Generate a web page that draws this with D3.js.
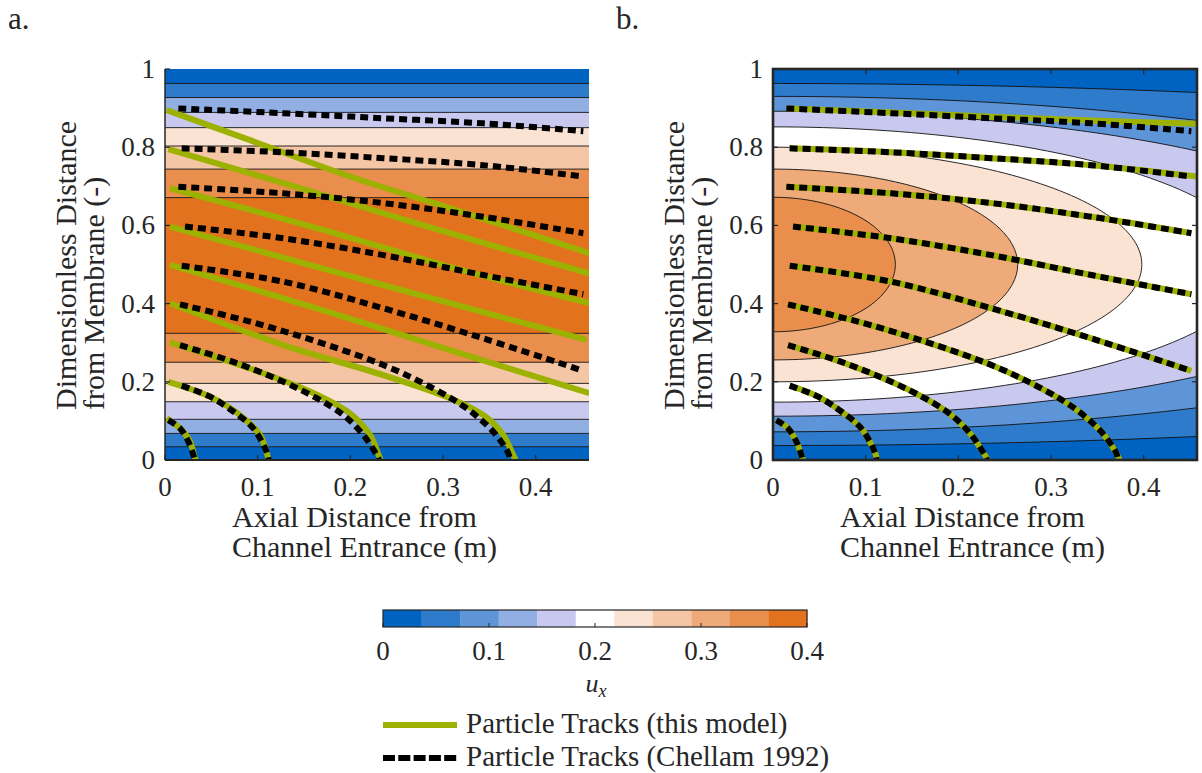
<!DOCTYPE html>
<html><head><meta charset="utf-8">
<script src="https://cdn.jsdelivr.net/npm/d3@7"></script>
<style>
body{margin:0;background:#fff;}
svg text{font-family:"Liberation Serif","Times New Roman",serif;fill:#262626;}
</style></head><body>
<svg id="chart" width="1202" height="773"></svg>
<script>
// ---------------- data ----------------
const xTicks = [0, 0.1, 0.2, 0.3, 0.4];
const yTicks = [0, 0.2, 0.4, 0.6, 0.8, 1];
const yTickLabels = ["0", "0.2", "0.4", "0.6", "0.8", "1"];
const cbTicks = [0, 0.1, 0.2, 0.3, 0.4];
const xMax = 0.4575;
const uMax = 0.4;
const levelColors = ["#0063c1", "#2e7bcb", "#5e95d8", "#92afe4", "#c9c8ef", "#ffffff",
                     "#fbe3d4", "#f5c6a6", "#efaa79", "#e98e4c", "#e3721f"];

// panel a: horizontal contour bands (edges in dimensionless distance) and their colour level
const bandEdgesA  = [0, 0.034, 0.068, 0.104, 0.149, 0.196, 0.250, 0.324, 0.671, 0.744, 0.803, 0.850, 0.889, 0.927, 0.963, 1];
const bandLevelsA = [0, 1, 3, 4, 6, 7, 9, 10, 9, 7, 6, 4, 3, 1, 0];

// panel b: nested elliptic contours centred on the entrance (semi-axes in m and in y)
const ellipseA      = [1.466, 0.886, 0.679, 0.523, 0.398, 0.264, 0.132];
const ellipseB      = [0.463, 0.429, 0.390, 0.352, 0.300, 0.244, 0.172];
const ellipseYc     = [0.500, 0.501, 0.502, 0.500, 0.500, 0.500, 0.500];
const ellipseLevels = [1, 2, 4, 5, 6, 8, 9];
const baseLevelB = 0;

// particle tracks, Chellam 1992 (same in both panels)
const chellamX = [
  [0.0144, 0.1277, 0.2356, 0.3435, 0.4514],
  [0.0180, 0.1277, 0.2356, 0.3435, 0.4514],
  [0.0144, 0.1277, 0.2356, 0.3435, 0.4514],
  [0.0216, 0.1277, 0.2356, 0.3435, 0.4514],
  [0.0180, 0.1277, 0.2356, 0.3435, 0.4514],
  [0.0162, 0.0917, 0.1637, 0.2356, 0.2895, 0.3255, 0.3543, 0.3705, 0.3722],
  [0.0162, 0.0737, 0.1277, 0.1637, 0.1924, 0.2140, 0.2284, 0.2310],
  [0.0180, 0.0486, 0.0737, 0.0953, 0.1097, 0.1120],
  [0.0036, 0.0162, 0.0252, 0.0306, 0.0320]
];
const chellamY = [
  [0.899, 0.887, 0.874, 0.861, 0.841],
  [0.797, 0.787, 0.772, 0.754, 0.725],
  [0.699, 0.682, 0.657, 0.622, 0.580],
  [0.597, 0.567, 0.524, 0.473, 0.424],
  [0.497, 0.456, 0.388, 0.311, 0.228],
  [0.398, 0.354, 0.303, 0.243, 0.183, 0.132, 0.072, 0.017, 0.0],
  [0.294, 0.251, 0.200, 0.158, 0.115, 0.064, 0.013, 0.0],
  [0.190, 0.162, 0.124, 0.081, 0.021, 0.0],
  [0.102, 0.081, 0.047, 0.013, 0.0]
];

// particle tracks, this model, panel a
const modelAX = [
  [0.0018, 0.0917, 0.1996, 0.3075, 0.4578],
  [0.0036, 0.1277, 0.2716, 0.4578],
  [0.0054, 0.1637, 0.3075, 0.4578],
  [0.0054, 0.1637, 0.3075, 0.4550],
  [0.0054, 0.1637, 0.3075, 0.4578],
  [0.0054, 0.1277, 0.2356, 0.3075, 0.3435, 0.3650, 0.3776, 0.3790],
  [0.0054, 0.0917, 0.1565, 0.1996, 0.2212, 0.2320, 0.2330],
  [0.0036, 0.0486, 0.0809, 0.1025, 0.1115, 0.1120],
  [0.0018, 0.0180, 0.0270, 0.0324, 0.0330]
];
const modelAY = [
  [0.895, 0.818, 0.725, 0.644, 0.529],
  [0.795, 0.708, 0.605, 0.477],
  [0.695, 0.593, 0.494, 0.401],
  [0.597, 0.494, 0.401, 0.307],
  [0.499, 0.388, 0.281, 0.171],
  [0.401, 0.294, 0.217, 0.158, 0.115, 0.064, 0.004, 0.0],
  [0.301, 0.234, 0.175, 0.119, 0.064, 0.004, 0.0],
  [0.200, 0.162, 0.115, 0.064, 0.004, 0.0],
  [0.107, 0.077, 0.047, 0.004, 0.0]
];

// particle tracks, this model, panel b
const modelBX = [
  [0.0144, 0.1277, 0.2356, 0.3435, 0.4577],
  [0.0180, 0.1277, 0.2356, 0.3435, 0.4577],
  [0.0144, 0.1277, 0.2356, 0.3435, 0.4514],
  [0.0216, 0.1277, 0.2356, 0.3435, 0.4514],
  [0.0180, 0.1277, 0.2356, 0.3435, 0.4514],
  [0.0162, 0.0917, 0.1637, 0.2356, 0.2895, 0.3255, 0.3543, 0.3705, 0.3740],
  [0.0162, 0.0737, 0.1277, 0.1637, 0.1924, 0.2140, 0.2284, 0.2320],
  [0.0180, 0.0486, 0.0737, 0.0953, 0.1097, 0.1125],
  [0.0036, 0.0162, 0.0252, 0.0306, 0.0325]
];
const modelBY = [
  [0.899, 0.889, 0.878, 0.868, 0.860],
  [0.797, 0.787, 0.772, 0.754, 0.725],
  [0.699, 0.682, 0.657, 0.622, 0.580],
  [0.597, 0.567, 0.524, 0.473, 0.424],
  [0.497, 0.456, 0.388, 0.311, 0.228],
  [0.398, 0.354, 0.303, 0.243, 0.183, 0.132, 0.072, 0.017, 0.0],
  [0.294, 0.251, 0.200, 0.158, 0.115, 0.064, 0.013, 0.0],
  [0.190, 0.162, 0.124, 0.081, 0.021, 0.0],
  [0.102, 0.081, 0.047, 0.013, 0.0]
];

const panelLetters = ["a.", "b."];
const xLabelLines = ["Axial Distance from", "Channel Entrance (m)"];
const yLabelLines = ["Dimensionless Distance", "from Membrane (-)"];
const legendLabels = ["Particle Tracks (this model)", "Particle Tracks (Chellam 1992)"];

// ---------------- styles ----------------
const GREEN = "#9db100";
const AXIS = "#262626";
const TRACK_W = 6;
const DASH = "8,5";

const svg = d3.select("#chart");
const defs = svg.append("defs");

const panels = [
  {left: 165, right: 589, top: 69, bottom: 460, box: false},
  {left: 773, right: 1197, top: 69, bottom: 460, box: true}
];

const line = d3.line().curve(d3.curveCatmullRom.alpha(0.5));

panels.forEach((p, pi) => {
  const x = d3.scaleLinear([0, xMax], [p.left, p.right]);
  const y = d3.scaleLinear([0, 1], [p.bottom, p.top]);
  const clipId = "clip" + pi;
  defs.append("clipPath").attr("id", clipId).append("rect")
    .attr("x", p.left).attr("y", p.top).attr("width", p.right - p.left).attr("height", p.bottom - p.top);
  const g = svg.append("g");
  const plot = g.append("g").attr("clip-path", `url(#${clipId})`);

  if (pi === 0) {
    plot.selectAll("rect.band").data(bandLevelsA).join("rect")
      .attr("x", x(0)).attr("width", x(xMax) - x(0))
      .attr("y", (d, i) => y(bandEdgesA[i + 1]))
      .attr("height", (d, i) => y(bandEdgesA[i]) - y(bandEdgesA[i + 1]))
      .attr("fill", d => levelColors[d]);
    plot.selectAll("line.edge").data(bandEdgesA.slice(1, -1)).join("line")
      .attr("x1", x(0)).attr("x2", x(xMax)).attr("y1", d => y(d)).attr("y2", d => y(d))
      .attr("stroke", "#111").attr("stroke-width", 0.9);
  } else {
    plot.append("rect").attr("x", x(0)).attr("y", y(1))
      .attr("width", x(xMax) - x(0)).attr("height", y(0) - y(1))
      .attr("fill", levelColors[baseLevelB]);
    const steps = d3.range(0, 121).map(k => -Math.PI / 2 + Math.PI * k / 120);
    ellipseA.forEach((a, i) => {
      const pts = steps.map(t => [x(a * Math.cos(t)), y(ellipseYc[i] + ellipseB[i] * Math.sin(t))]);
      plot.append("path").attr("d", d3.line()(pts) + "Z")
        .attr("fill", levelColors[ellipseLevels[i]])
        .attr("stroke", "#111").attr("stroke-width", 0.9);
    });
  }

  // tracks
  const mx = pi === 0 ? modelAX : modelBX;
  const my = pi === 0 ? modelAY : modelBY;
  mx.forEach((xs, i) => {
    plot.append("path").attr("d", line(xs.map((v, k) => [x(v), y(my[i][k])])))
      .attr("fill", "none").attr("stroke", GREEN).attr("stroke-width", TRACK_W);
  });
  chellamX.forEach((xs, i) => {
    plot.append("path").attr("d", line(xs.map((v, k) => [x(v), y(chellamY[i][k])])))
      .attr("fill", "none").attr("stroke", "#000").attr("stroke-width", TRACK_W)
      .attr("stroke-dasharray", DASH);
  });

  // axes
  const tickLen = 5;
  if (p.box) {
    g.append("rect").attr("x", p.left).attr("y", p.top)
      .attr("width", p.right - p.left).attr("height", p.bottom - p.top)
      .attr("fill", "none").attr("stroke", AXIS).attr("stroke-width", 2.6);
  } else {
    g.append("line").attr("x1", p.left).attr("x2", p.right).attr("y1", p.bottom).attr("y2", p.bottom)
      .attr("stroke", AXIS).attr("stroke-width", 2);
    g.append("line").attr("x1", p.left).attr("x2", p.left).attr("y1", p.top).attr("y2", p.bottom)
      .attr("stroke", AXIS).attr("stroke-width", 1.5);
  }
  xTicks.forEach(t => {
    g.append("line").attr("x1", x(t)).attr("x2", x(t)).attr("y1", p.bottom).attr("y2", p.bottom - tickLen)
      .attr("stroke", AXIS).attr("stroke-width", 1.2);
    if (p.box) g.append("line").attr("x1", x(t)).attr("x2", x(t)).attr("y1", p.top).attr("y2", p.top + tickLen)
      .attr("stroke", AXIS).attr("stroke-width", 1.2);
    g.append("text").attr("x", x(t)).attr("y", 496).attr("text-anchor", "middle")
      .style("font-size", "27px").text(d3.format("~g")(t));
  });
  yTicks.forEach((t, i) => {
    g.append("line").attr("x1", p.left).attr("x2", p.left + tickLen).attr("y1", y(t)).attr("y2", y(t))
      .attr("stroke", AXIS).attr("stroke-width", 1.2);
    if (p.box) g.append("line").attr("x1", p.right).attr("x2", p.right - tickLen).attr("y1", y(t)).attr("y2", y(t))
      .attr("stroke", AXIS).attr("stroke-width", 1.2);
    g.append("text").attr("x", p.left - 10).attr("y", y(t) + 9).attr("text-anchor", "end")
      .style("font-size", "27px").text(yTickLabels[i]);
  });
  // axis labels (two-line, one text element each)
  const xl = g.append("text").style("font-size", "30px");
  xLabelLines.forEach((s, i) => {
    xl.append("tspan").attr("x", p.left + 67).attr("y", 527 + i * 30).text(s);
  });
  const yl = g.append("text").style("font-size", "30px")
    .attr("transform", `translate(${p.left - 89},410) rotate(-90)`);
  yLabelLines.forEach((s, i) => {
    yl.append("tspan").attr("x", 0).attr("y", i * 28).text(s);
  });
  svg.append("text").attr("x", p.left - 157).attr("y", 29)
    .style("font-size", "31px").text(panelLetters[pi]);
});

// ---------------- colorbar ----------------
const cb = {left: 383, right: 807, top: 610, bottom: 627};
const cx = d3.scaleLinear([0, uMax], [cb.left, cb.right]);
const nLev = levelColors.length;
const cg = svg.append("g");
cg.selectAll("rect.lev").data(levelColors).join("rect")
  .attr("x", (d, i) => cx(uMax * i / nLev)).attr("width", (d, i) => cx(uMax * (i + 1) / nLev) - cx(uMax * i / nLev) + 0.3)
  .attr("y", cb.top).attr("height", cb.bottom - cb.top).attr("fill", d => d);
cg.append("rect").attr("x", cb.left).attr("y", cb.top).attr("width", cb.right - cb.left).attr("height", cb.bottom - cb.top)
  .attr("fill", "none").attr("stroke", AXIS).attr("stroke-width", 1.2);
cbTicks.forEach(t => {
  cg.append("line").attr("x1", cx(t)).attr("x2", cx(t)).attr("y1", cb.bottom).attr("y2", cb.bottom - 4)
    .attr("stroke", AXIS).attr("stroke-width", 1);
  cg.append("text").attr("x", cx(t)).attr("y", 660).attr("text-anchor", "middle")
    .style("font-size", "27px").text(d3.format("~g")(t));
});
const ul = cg.append("text").attr("x", 596).attr("y", 692).attr("text-anchor", "middle")
  .style("font-size", "26px").style("font-style", "italic");
ul.append("tspan").text("u");
ul.append("tspan").attr("dy", 5).style("font-size", "18px").text("x");

// ---------------- legend ----------------
const lg = svg.append("g");
const legY = [725, 758];
lg.append("line").attr("x1", 383).attr("x2", 457).attr("y1", legY[0]).attr("y2", legY[0])
  .attr("stroke", GREEN).attr("stroke-width", TRACK_W);
lg.append("line").attr("x1", 383).attr("x2", 458).attr("y1", legY[1]).attr("y2", legY[1])
  .attr("stroke", "#000").attr("stroke-width", TRACK_W).attr("stroke-dasharray", "12,3.3");
legendLabels.forEach((s, i) => {
  lg.append("text").attr("x", 466).attr("y", legY[i] + 8).style("font-size", "29px").text(s);
});
</script>
</body></html>
